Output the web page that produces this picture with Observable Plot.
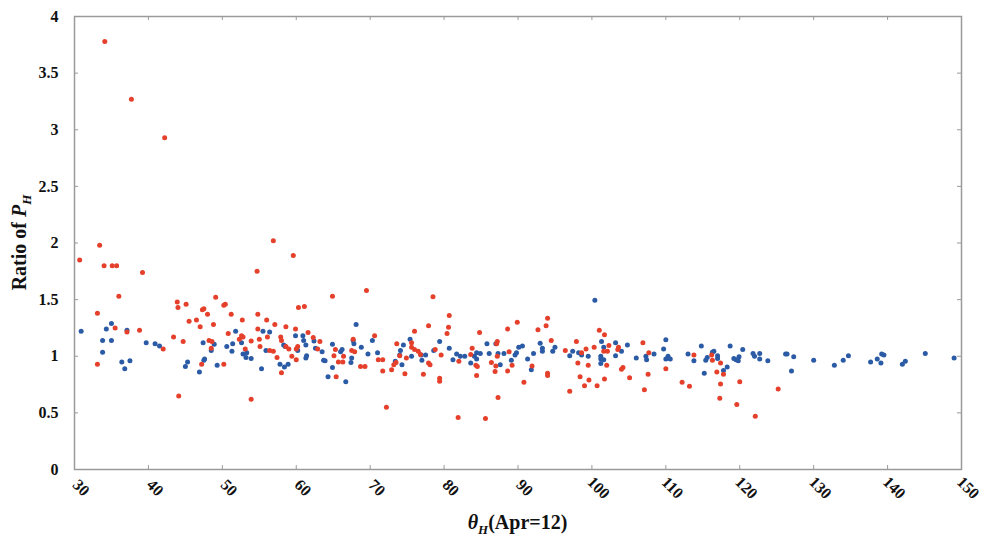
<!DOCTYPE html>
<html><head><meta charset="utf-8">
<script src="https://cdn.jsdelivr.net/npm/d3@7"></script>
<script src="https://cdn.jsdelivr.net/npm/@observablehq/plot@0.6"></script>
<style>body{margin:0;background:#fff;}</style>
</head><body><div id="chart"></div>
<script>
const xTicks = [30,40,50,60,70,80,90,100,110,120,130,140,150];
const yTicks = [0,0.5,1,1.5,2,2.5,3,3.5,4];
const xTitle = ["θ","H","(Apr=12)"];
const yTitle = ["Ratio of ","P","H"];

const redTheta = [30.7,33.4,34.0,35.1,35.7,39.2,36.0,33.1,35.5,37.1,38.8,33.1,43.4,42.0,44.7,43.9,44.0,45.1,45.5,46.5,47.0,47.3,47.5,48.0,49.1,48.8,50.2,50.4,50.8,48.2,48.6,48.5,47.2,50.2,44.1,34.1,37.7,42.2,56.9,59.6,54.7,51.2,52.7,54.8,56.0,54.8,57.1,58.6,59.9,60.3,61.1,64.9,69.5,52.3,52.6,52.8,53.9,55.0,56.1,55.1,53.1,56.4,56.9,57.9,58.0,58.6,59.0,60.0,60.2,57.4,58.0,59.4,60.0,61.6,62.3,63.2,62.9,65.1,65.4,66.4,65.7,66.3,65.3,67.7,67.5,67.9,68.7,69.3,70.6,71.1,71.7,71.7,53.9,72.2,78.5,80.7,77.9,80.6,80.4,76.0,73.6,75.6,75.6,76.0,76.5,76.8,78.8,79.6,74.9,73.5,73.2,74.0,72.9,74.7,77.2,77.9,78.1,79.4,79.4,81.9,85.6,84.8,83.8,82.0,83.6,84.3,84.5,84.4,86.4,87.0,86.9,87.1,87.2,87.2,87.3,88.6,89.9,88.8,89.2,88.6,90.8,91.9,92.7,94.0,93.8,94.5,94.0,94.0,96.4,97.9,98.1,98.4,99.0,97.0,99.6,99.5,99.2,98.6,100.3,100.7,101.0,101.7,102.0,101.7,101.6,102.1,102.3,103.6,103.5,104.2,104.0,105.1,106.9,107.7,107.6,107.1,110.0,112.2,113.2,113.8,116.2,116.3,117.4,116.9,117.8,117.4,117.3,120.0,119.6,125.2,122.1];
const redRatio = [1.85,1.98,1.80,1.80,1.80,1.74,1.53,1.38,1.25,1.215,1.23,0.93,1.17,1.065,1.13,1.48,1.43,1.46,1.31,1.32,1.26,1.41,1.42,1.37,1.52,1.28,1.45,1.46,1.20,1.14,1.13,1.07,0.93,0.93,0.65,3.78,3.27,2.93,2.02,1.89,1.75,1.37,1.32,1.37,1.32,1.24,1.28,1.26,1.24,1.43,1.44,1.53,1.58,1.15,1.18,1.17,1.135,1.15,1.17,1.085,1.065,1.05,1.045,1.17,1.14,1.085,1.065,1.065,1.085,0.99,0.855,1.0,0.97,1.21,1.165,1.13,1.065,1.005,0.82,1.0,0.95,0.95,1.06,1.15,1.05,1.04,0.91,0.91,1.18,0.97,0.97,0.87,0.62,0.55,1.525,1.36,1.27,1.255,1.20,1.22,1.11,1.12,1.08,1.06,1.045,1.015,1.06,1.01,0.985,0.945,0.925,1.005,0.88,0.845,0.84,0.94,0.925,0.805,0.78,0.46,0.45,1.21,1.07,0.955,1.015,0.92,0.91,0.83,0.945,0.915,0.865,1.11,1.13,1.0,0.635,1.24,1.30,1.04,0.92,0.87,0.77,0.915,1.235,1.335,1.27,1.14,0.85,0.83,1.05,1.13,0.94,0.82,0.74,0.69,0.79,0.92,1.065,1.03,1.08,0.74,1.23,1.19,0.92,0.80,1.045,1.045,1.095,1.08,1.06,0.90,0.885,0.81,1.12,1.03,0.84,0.705,0.89,0.77,0.735,1.01,1.01,0.965,0.94,0.86,0.84,0.755,0.63,0.775,0.575,0.71,0.47];

const blueTheta = [30.9,35.0,34.3,33.8,35.0,33.8,37.1,36.4,36.8,37.5,39.7,40.9,41.5,45.3,45.0,46.9,47.5,47.6,47.4,48.9,48.5,49.3,50.6,51.8,51.4,51.3,52.6,52.8,53.2,53.3,53.9,55.3,55.5,56.4,55.9,58.3,58.5,57.8,58.4,58.9,59.9,60.9,61.0,61.3,60.2,61.4,61.3,62.4,62.6,63.5,63.7,63.9,64.9,66.0,66.2,64.3,64.9,66.7,67.5,67.4,68.1,67.7,67.8,68.8,70.3,69.7,71.0,75.4,74.5,74.1,74.0,73.4,74.3,75.6,76.9,77.5,77.0,78.6,79.4,80.7,81.2,81.7,82.2,82.8,83.6,84.1,84.4,84.4,84.9,85.8,86.1,87.0,87.3,87.6,88.1,89.1,89.6,89.8,90.1,90.6,91.3,91.8,92.1,93.0,93.3,93.3,94.7,95.0,97.0,97.4,98.2,98.6,99.5,100.4,101.3,101.6,101.2,101.2,101.2,101.6,103.2,103.2,104.0,104.8,106.0,107.3,107.4,108.4,109.7,110.0,110.0,110.3,110.6,113.0,113.8,114.8,115.2,115.4,115.6,116.3,116.5,117.0,117.0,117.8,118.3,118.7,119.2,119.5,119.8,119.9,120.4,121.8,122.0,122.7,122.7,123.8,126.2,126.4,127.3,127.0,130.0,132.8,134.0,134.7,137.7,138.6,139.2,139.5,139.1,142.0,142.4,145.1,149.0];
const blueRatio = [1.22,1.29,1.24,1.14,1.14,1.035,1.23,0.95,0.89,0.96,1.12,1.11,1.09,0.95,0.91,0.86,0.965,0.975,1.12,1.105,1.05,0.92,1.085,1.22,1.11,1.045,1.12,1.02,0.99,1.03,0.98,0.89,1.22,1.215,1.05,1.10,1.085,0.93,0.905,0.93,1.18,1.18,1.14,1.10,1.05,1.005,0.985,1.135,1.07,1.04,0.965,0.96,1.105,1.04,1.06,0.82,0.90,0.775,0.985,0.945,1.28,1.14,1.11,1.08,1.14,1.02,1.03,1.15,1.10,1.05,1.01,0.955,0.925,1.0,1.01,1.01,0.965,1.05,1.13,1.07,0.97,1.02,1.0,1.0,0.94,1.0,1.03,0.975,1.025,1.11,1.025,1.11,1.025,0.925,1.025,0.965,1.01,1.03,1.08,1.09,0.975,0.88,1.025,1.115,1.07,1.045,1.045,1.08,1.005,1.045,1.03,1.01,1.0,1.495,1.13,1.08,1.0,0.975,0.935,0.97,1.12,1.005,1.045,1.10,0.985,1.0,0.97,1.02,1.065,1.145,0.975,1.0,0.975,1.02,0.96,1.09,0.85,0.965,0.99,1.035,1.045,1.005,0.98,0.875,0.905,1.09,0.98,0.97,0.96,0.995,1.06,1.025,1.0,1.025,0.975,0.96,1.02,1.02,0.995,0.87,0.965,0.92,0.965,1.005,0.95,0.975,1.02,1.01,0.94,0.93,0.955,1.025,0.985];

const red = redTheta.map((t,i)=>({theta:t, ratio:redRatio[i]}));
const blue = blueTheta.map((t,i)=>({theta:t, ratio:blueRatio[i]}));

const W = 984, H = 542;
const mL = 74, mR = 23, mT = 16, mB = 73;
const fontFamily = "'Liberation Serif','Times New Roman',serif";

const chart = Plot.plot({
  width: W, height: H,
  marginLeft: mL, marginRight: mR, marginTop: mT, marginBottom: mB,
  style: {fontFamily, fontSize: "15px", fontWeight: "bold", color: "#111", background: "#fff"},
  x: {domain: [30,150], ticks: xTicks, axis: null},
  y: {domain: [0,4], ticks: yTicks},
  marks: [
    Plot.frame({stroke: "#9a9a9a", strokeWidth: 1.5}),
    Plot.tickX(xTicks, {x: d=>d, insetTop: H-mT-mB-4, stroke:"#9a9a9a", strokeWidth:1}),
    Plot.tickX(xTicks, {x: d=>d, insetBottom: H-mT-mB-4, stroke:"#9a9a9a", strokeWidth:1}),
    Plot.tickY(yTicks, {y: d=>d, insetRight: W-mL-mR-4, stroke:"#9a9a9a", strokeWidth:1}),
    Plot.tickY(yTicks, {y: d=>d, insetLeft: W-mL-mR-4, stroke:"#9a9a9a", strokeWidth:1}),
    Plot.axisY(yTicks, {tickSize: 0, tickPadding: 16, tickFormat: d=>String(d), label: null, fill:"#111", fontSize: 16}),
    Plot.text(xTicks, {x: d=>d, frameAnchor: "bottom", dy: 22, dx: 3, rotate: 45, text: d=>String(d), textAnchor: "middle", fill:"#111", fontSize: 16}),
    Plot.dot(blue, {x: "theta", y: "ratio", r: 2.5, fill: "#2c5ba6", stroke: "none"}),
    Plot.dot(red, {x: "theta", y: "ratio", r: 2.5, fill: "#e5402b", stroke: "none"})
  ]
});
document.getElementById("chart").appendChild(chart);

const svg = d3.select(chart);
const xt = svg.append("text")
  .attr("x", mL + (W-mL-mR)/2).attr("y", 529)
  .attr("text-anchor","middle")
  .attr("font-family", fontFamily).attr("font-size", 20).attr("font-weight","bold").attr("fill","#111");
xt.append("tspan").attr("font-style","italic").text(xTitle[0]);
xt.append("tspan").attr("font-style","italic").attr("font-size",13).attr("dy",5).text(xTitle[1]);
xt.append("tspan").attr("dy",-5).text(xTitle[2]);

const yt = svg.append("text")
  .attr("transform", `translate(26,${mT + (H-mT-mB)/2}) rotate(-90)`)
  .attr("text-anchor","middle")
  .attr("font-family", fontFamily).attr("font-size", 20).attr("font-weight","bold").attr("fill","#111");
yt.append("tspan").text(yTitle[0]);
yt.append("tspan").attr("font-style","italic").text(yTitle[1]);
yt.append("tspan").attr("font-style","italic").attr("font-size",13).attr("dy",5).text(yTitle[2]);
</script>
</body></html>
